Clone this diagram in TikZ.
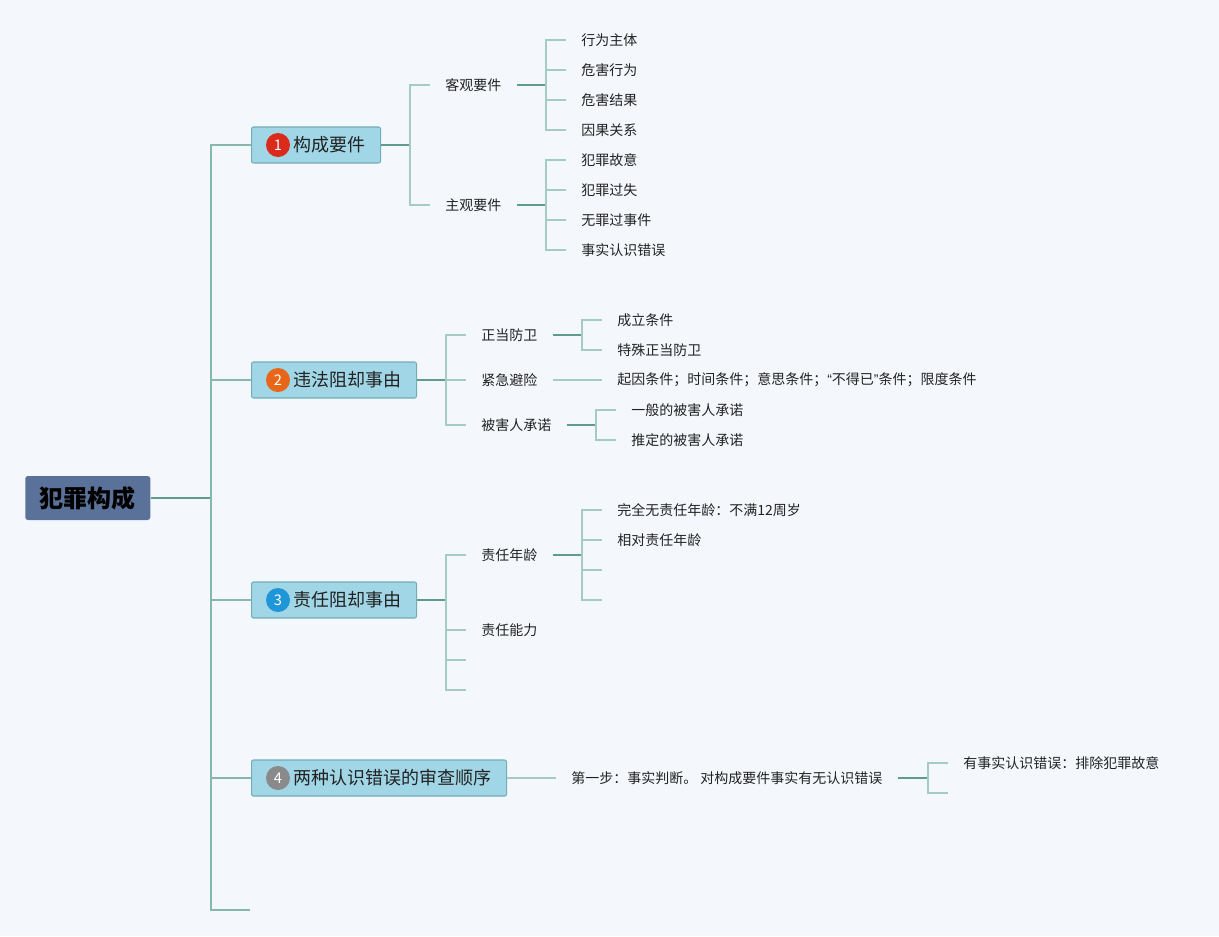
\documentclass[tikz,border=0pt]{standalone}
\usepackage{fontspec}
\newfontfamily\cjk{Noto Sans CJK SC}
\newfontfamily\latq{Liberation Sans}
\usetikzlibrary{calc}
\definecolor{bg}{HTML}{F4F8FD}
\definecolor{rootfill}{HTML}{5A7299}
\definecolor{boxfill}{HTML}{A0D6E6}
\definecolor{boxline}{HTML}{72AEB6}
\definecolor{darkline}{HTML}{5E9C8C}
\definecolor{trunkline}{HTML}{86B8AE}
\definecolor{liteline}{HTML}{A5CCC4}
\definecolor{txt}{HTML}{222222}
\definecolor{numred}{HTML}{D92A1C}
\definecolor{numorange}{HTML}{E8661A}
\definecolor{numblue}{HTML}{1E96D8}
\definecolor{numgray}{HTML}{8A8A8A}
\begin{document}
\begin{tikzpicture}[x=0.75pt,y=-0.75pt,
  leaf/.style={anchor=west, inner xsep=11.25pt, inner ysep=2pt, font=\cjk\fontsize{10.5}{12}\selectfont, text=txt},
  lvl/.style={draw=boxline, fill=boxfill, rounded corners=1.5pt, minimum height=27pt, anchor=west, line width=0.8pt, inner sep=0pt},
  rootbox/.style={fill=rootfill, rounded corners=2pt, minimum height=33pt, minimum width=93.75pt, anchor=west, inner sep=0pt, text=black, font=\cjk\bfseries\fontsize{18}{20}\selectfont},
  num/.style={circle, minimum size=18pt, inner sep=0pt, text=white, font=\cjk\fontsize{11}{12}\selectfont},
  lbl/.style={anchor=west, inner sep=0pt, font=\cjk\fontsize{13.5}{15}\selectfont, text=txt},
  dark/.style={draw=darkline, line width=1.4pt},
  trunk/.style={draw=trunkline, line width=1.3pt},
  lite/.style={draw=liteline, line width=1.3pt}
]
\fill[bg] (0,0) rectangle (1219,936);
\useasboundingbox (0,0) rectangle (1219,936);

% root
\node[rootbox] (root) at (25,498) {犯罪构成};

% level 1 boxes
\node[lvl, minimum width=96.75pt] (b1) at (251,145) {};
\node[num, fill=numred] (n1) at (278,145) {1};
\node[lbl] (t1) at (293,145) {构成要件};

\node[lvl, minimum width=123.75pt] (b2) at (251,380) {};
\node[num, fill=numorange] (n2) at (278,380) {2};
\node[lbl] (t2) at (293,380) {违法阻却事由};

\node[lvl, minimum width=123.75pt] (b3) at (251,600) {};
\node[num, fill=numblue] (n3) at (278,600) {3};
\node[lbl] (t3) at (293,600) {责任阻却事由};

\node[lvl, minimum width=191.25pt] (b4) at (251,778) {};
\node[num, fill=numgray] (n4) at (278,778) {4};
\node[lbl] (t4) at (293,778) {两种认识错误的审查顺序};

\coordinate (e5) at (250,910);

% trunk
\coordinate (j0) at (211,498);
\draw[dark] (root.east) -- (j0);
\foreach \b in {b1,b2,b3,b4} \draw[trunk] (j0) |- (\b.west);
\draw[trunk] (j0) |- (e5);

% ---- branch 1
\node[leaf] (k1) at (430,85) {客观要件};
\node[leaf] (k2) at (430,205) {主观要件};
\coordinate (j1) at (410,145);
\draw[dark] (b1.east) -- (j1);
\draw[lite] (j1) |- (k1.west);
\draw[lite] (j1) |- (k2.west);

\node[leaf] (a1) at (566,40) {行为主体};
\node[leaf] (a2) at (566,70) {危害行为};
\node[leaf] (a3) at (566,100) {危害结果};
\node[leaf] (a4) at (566,130) {因果关系};
\coordinate (ja) at (546,85);
\draw[dark] (k1.east) -- (ja);
\foreach \n in {a1,a2,a3,a4} \draw[lite] (ja) |- (\n.west);

\node[leaf] (c1) at (566,160) {犯罪故意};
\node[leaf] (c2) at (566,190) {犯罪过失};
\node[leaf] (c3) at (566,220) {无罪过事件};
\node[leaf] (c4) at (566,250) {事实认识错误};
\coordinate (jc) at (546,205);
\draw[dark] (k2.east) -- (jc);
\foreach \n in {c1,c2,c3,c4} \draw[lite] (jc) |- (\n.west);

% ---- branch 2
\node[leaf] (z1) at (466,335) {正当防卫};
\node[leaf] (z2) at (466,380) {紧急避险};
\node[leaf] (z3) at (466,425) {被害人承诺};
\coordinate (j2) at (446,380);
\draw[dark] (b2.east) -- (j2);
\foreach \n in {z1,z2,z3} \draw[lite] (j2) |- (\n.west);

\node[leaf] (d1) at (602,320) {成立条件};
\node[leaf] (d2) at (602,350) {特殊正当防卫};
\coordinate (jd) at (582,335);
\draw[dark] (z1.east) -- (jd);
\draw[lite] (jd) |- (d1.west);
\draw[lite] (jd) |- (d2.west);

\node[leaf] (f1) at (602,380) {起因条件；时间条件；意思条件；{\latq “}不得已{\latq ”}条件；限度条件};
\draw[lite] (z2.east) -- (f1.west);

\node[leaf] (g1) at (616,410) {一般的被害人承诺};
\node[leaf] (g2) at (616,440) {推定的被害人承诺};
\coordinate (jg) at (596,425);
\draw[dark] (z3.east) -- (jg);
\draw[lite] (jg) |- (g1.west);
\draw[lite] (jg) |- (g2.west);

% ---- branch 3
\node[leaf] (r1) at (466,555) {责任年龄};
\node[leaf] (r2) at (466,630) {责任能力};
\coordinate (r3) at (466,660);
\coordinate (r4) at (466,690);
\coordinate (j3) at (446,600);
\draw[dark] (b3.east) -- (j3);
\draw[lite] (j3) |- (r1.west);
\draw[lite] (j3) |- (r2.west);
\draw[lite] (j3) |- (r3);
\draw[lite] (j3) |- (r4);

\node[leaf] (h1) at (602,510) {完全无责任年龄：不满12周岁};
\node[leaf] (h2) at (602,540) {相对责任年龄};
\coordinate (h3) at (602,570);
\coordinate (h4) at (602,600);
\coordinate (jh) at (582,555);
\draw[dark] (r1.east) -- (jh);
\draw[lite] (jh) |- (h1.west);
\draw[lite] (jh) |- (h2.west);
\draw[lite] (jh) |- (h3);
\draw[lite] (jh) |- (h4);

% ---- branch 4
\node[leaf] (s1) at (556,778) {第一步：事实判断。 对构成要件事实有无认识错误};
\draw[lite] (b4.east) -- (s1.west);
\node[leaf] (m1) at (948,763) {有事实认识错误：排除犯罪故意};
\coordinate (m2) at (948,793);
\coordinate (jm) at (928,778);
\draw[dark] (s1.east) -- (jm);
\draw[lite] (jm) |- (m1.west);
\draw[lite] (jm) |- (m2);
\end{tikzpicture}
\end{document}
